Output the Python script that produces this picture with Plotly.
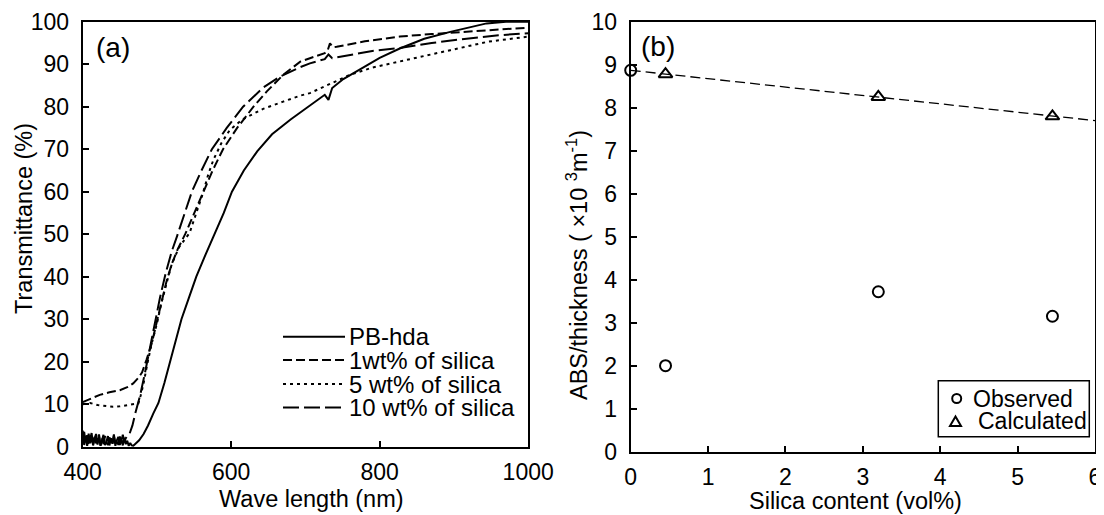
import plotly.graph_objects as go

# ---------------- Panel (a): transmittance spectra ----------------
pb_x = [400, 402, 404, 406, 408, 410, 412, 414, 416, 418, 420, 422, 424, 426, 428, 430, 432, 434,
        436, 438, 440, 442, 444, 446, 448, 450, 452, 454, 456, 458, 460, 462, 464, 466, 468,
        470, 476, 482, 488, 495, 502, 510, 518, 525, 533, 543, 553, 565, 578, 590, 601, 617, 635,
        655, 680, 700, 715, 726, 731, 736, 751, 780, 800, 827, 860, 895, 944, 970, 1000]
pb_y = [3.8, 0.4, 2.6, 0.2, 3.1, 0.8, 2.2, 0.3, 1.9, 3.0, 0.5, 2.4, 0.2, 1.6, 2.8, 0.4, 1.2, 2.5,
        0.3, 2.0, 0.7, 2.9, 0.2, 1.5, 2.3, 0.4, 1.8, 0.3, 2.1, 0.6, 1.4, 0.2, 0.9, 0.3, 0.2,
        0.5, 1.5, 3.0, 5.0, 7.8, 10.3, 15, 20, 25, 30, 35, 40, 45, 50, 55, 60, 65, 69.5,
        73.5, 77.0, 79.5, 81.3, 82.8, 81.6, 84.4, 86.5, 89.5, 91.5, 93.7, 96, 97.6, 99.6, 100, 100]

s1_x = [400, 410, 423, 436, 450, 460, 468, 475, 480, 486, 493, 500, 506, 513, 520, 528, 538, 550,
        562, 575, 589, 608, 630, 648, 670, 693, 706, 726, 730, 733, 737, 742, 780, 827, 870, 917,
        960, 1000]
s1_y = [10.5, 11.3, 12.2, 12.8, 13.3, 14.0, 14.9, 16.2, 17.5, 20.5, 24.3, 29.5, 34, 39, 43, 46.5,
        50, 55, 60, 65, 70, 75, 80, 83.6, 87.5, 90.6, 91.4, 92.6, 93.3, 94.9, 94.0, 94.1, 95.4,
        96.5, 97.1, 97.6, 98.1, 98.6]

s5_x = [400, 410, 420, 430, 441, 450, 460, 468, 475, 478, 482, 487, 493, 500, 506, 513, 520, 530,
        544, 553, 562, 569, 576, 587, 598, 615, 643, 670, 693, 706, 720, 740, 760, 790, 827, 860,
        895, 946, 1000]
s5_y = [10.0, 10.3, 9.8, 9.6, 9.4, 9.5, 9.8, 10.0, 10.2, 12.0, 14.9, 19.5, 24.3, 29.0, 33.8, 38.5,
        43.0, 47.0, 50.3, 55.0, 59.7, 64.0, 67.5, 71.5, 74.5, 77.0, 79.5, 81.2, 82.6, 83.2, 84.3,
        86.0, 87.5, 89.2, 90.6, 92.0, 93.3, 95.3, 96.5]

s10_x = [400, 402, 404, 406, 408, 410, 412, 414, 416, 418, 420, 422, 424, 426, 428, 430, 432, 434,
         436, 438, 440, 442, 444, 446, 448, 450, 452, 454, 456, 458, 460,
         463, 467, 471, 477, 484, 490, 497, 504, 512, 520, 527, 537, 547, 560, 574, 594, 616, 643,
         665, 693, 706, 726, 731, 736, 760, 790, 827, 870, 917, 960, 1000]
s10_y = [2.0, 3.5, 0.6, 2.7, 0.3, 1.9, 3.2, 0.5, 2.3, 0.8, 1.4, 2.9, 0.3, 2.0, 0.6, 2.5, 1.0, 0.4,
         2.2, 1.5, 0.3, 2.6, 0.9, 1.7, 0.4, 2.4, 1.1, 2.8, 1.3, 2.0, 2.6,
         3.0, 5.0, 8.0, 11.8, 17.5, 23.0, 29.5, 35.0, 41.0, 46.0, 49.5, 55.0, 60.0, 65.0, 70.0,
         75.0, 80.0, 84.5, 87.0, 89.3, 90.2, 91.2, 92.3, 91.4, 92.2, 93.1, 93.8, 95.0, 96.0, 96.8,
         97.3]

legend_a = ["PB-hda", "1wt% of silica", "5 wt% of silica", "10 wt% of silica"]

# ---------------- Panel (b): ABS/thickness ----------------
obs_x = [0, 0.45, 3.2, 5.45]
obs_y = [8.87, 2.0, 3.72, 3.15]
calc_x = [0.45, 3.2, 5.45]
calc_y = [8.78, 8.25, 7.80]
fit_x = [0, 6]
fit_y = [8.87, 7.70]
legend_b = ["Observed", "Calculated"]

# ---------------- layout helpers (screen pixel -> paper) ----------------
# the page body has an 8px margin, so the figure is drawn 8px in from the corner
OFF = 8
W, H = 1104 - OFF, 515 - OFF
FONT = "Arial, 'Liberation Sans', sans-serif"


def px(xp):
    return (xp - OFF) / W


def py(yp):
    return 1 - (yp - OFF) / H


fig = go.Figure()

dashes = ["solid", "9px,4px", "3px,4px", "16px,5px"]
series = [(pb_x, pb_y), (s1_x, s1_y), (s5_x, s5_y), (s10_x, s10_y)]
for (xs, ys), name, d in zip(series, legend_a, dashes):
    fig.add_trace(go.Scatter(x=xs, y=ys, mode="lines", name=name, showlegend=False,
                             line=dict(color="black", width=2, dash=d),
                             xaxis="x", yaxis="y"))

fig.add_trace(go.Scatter(x=fit_x, y=fit_y, mode="lines", showlegend=False,
                         line=dict(color="black", width=1.3, dash="10px,5px"),
                         xaxis="x2", yaxis="y2"))
fig.add_trace(go.Scatter(x=obs_x, y=obs_y, mode="markers", name=legend_b[0], showlegend=False,
                         marker=dict(symbol="circle-open", size=11, color="black",
                                     line=dict(width=2)),
                         cliponaxis=False, xaxis="x2", yaxis="y2"))
fig.add_trace(go.Scatter(x=calc_x, y=calc_y, mode="markers", name=legend_b[1], showlegend=False,
                         marker=dict(symbol="triangle-up-open", size=12, color="black",
                                     line=dict(width=2)),
                         cliponaxis=False, xaxis="x2", yaxis="y2"))

TICKSIZE = 23
axis_common = dict(showline=True, linecolor="black", linewidth=2, mirror=True,
                   ticks="inside", ticklen=6, tickwidth=2, tickcolor="black",
                   showgrid=False, zeroline=False, automargin=False,
                   tickfont=dict(family=FONT, size=TICKSIZE, color="black"))

fig.update_layout(
    template="none",
    width=W, height=H,
    margin=dict(l=0, r=0, t=0, b=0, autoexpand=False),
    paper_bgcolor="white", plot_bgcolor="white",
    font=dict(family=FONT, size=TICKSIZE, color="black"),
    xaxis=dict(domain=[px(82.7), px(528.2)], range=[400, 1000],
               tickvals=[400, 600, 800, 1000], anchor="y", ticklabelstandoff=4,
               **axis_common),
    yaxis=dict(domain=[py(446.7), py(21.7)], range=[0, 100], dtick=10, anchor="x",
               ticklabelstandoff=7, **axis_common),
    xaxis2=dict(domain=[px(630.7), px(1095)], range=[0, 6], dtick=1, anchor="y2",
                ticklabelstandoff=4, **axis_common),
    yaxis2=dict(domain=[py(451.7), py(21.7)], range=[0, 10], dtick=1, anchor="x2",
                ticklabelstandoff=7, **axis_common),
    showlegend=False,
)

shapes = []
annotations = []

# legend for panel (a): line samples + labels
row_y = [336.7, 360.0, 384.0, 407.5]
for name, d, ry in zip(legend_a, dashes, row_y):
    shapes.append(dict(type="line", xref="paper", yref="paper",
                       x0=px(283), x1=px(345), y0=py(ry), y1=py(ry),
                       line=dict(color="black", width=2, dash=d)))
    annotations.append(dict(text=name, xref="paper", yref="paper", x=px(347), y=py(ry),
                            xanchor="left", yanchor="middle", showarrow=False,
                            font=dict(family=FONT, size=24, color="black")))

# legend for panel (b): framed box with marker samples
shapes.append(dict(type="rect", xref="paper", yref="paper",
                   x0=px(938.3), x1=px(1089.3), y0=py(380.7), y1=py(436.7),
                   line=dict(color="black", width=1.5), fillcolor="white", layer="above"))
shapes.append(dict(type="circle", xref="paper", yref="paper",
                   xsizemode="pixel", ysizemode="pixel",
                   xanchor=px(956.7), yanchor=py(398.5),
                   x0=-4.5, x1=4.5, y0=-4.5, y1=4.5,
                   line=dict(color="black", width=2), layer="above"))
shapes.append(dict(type="path", xref="paper", yref="paper",
                   xsizemode="pixel", ysizemode="pixel",
                   xanchor=px(955.5), yanchor=py(421.5),
                   path="M -5.5 -4.5 L 5.5 -4.5 L 0 5 Z",
                   line=dict(color="black", width=2), layer="above"))
annotations.append(dict(text=legend_b[0], xref="paper", yref="paper", x=px(971), y=py(398.5),
                        xanchor="left", yanchor="middle", showarrow=False,
                        font=dict(family=FONT, size=23, color="black")))
annotations.append(dict(text=legend_b[1], xref="paper", yref="paper", x=px(976), y=py(420.5),
                        xanchor="left", yanchor="middle", showarrow=False,
                        font=dict(family=FONT, size=23, color="black")))

# panel labels and axis titles
annotations += [
    dict(text="(a)", xref="paper", yref="paper", x=px(94), y=py(48), xanchor="left",
         yanchor="middle", showarrow=False, font=dict(family=FONT, size=28)),
    dict(text="(b)", xref="paper", yref="paper", x=px(639), y=py(47), xanchor="left",
         yanchor="middle", showarrow=False, font=dict(family=FONT, size=28)),
    dict(text="Wave length (nm)", xref="paper", yref="paper", x=px(311), y=py(498.5),
         xanchor="center", yanchor="middle", showarrow=False, font=dict(family=FONT, size=23.5)),
    dict(text="Silica content (vol%)", xref="paper", yref="paper", x=px(855), y=py(500.5),
         xanchor="center", yanchor="middle", showarrow=False, font=dict(family=FONT, size=23.5)),
    dict(text="Transmittance (%)", xref="paper", yref="paper", x=px(24), y=py(219),
         xanchor="center", yanchor="middle", textangle=-90, showarrow=False,
         font=dict(family=FONT, size=23.5)),
    dict(text="ABS/thickness ( \u00d710 <sup>3</sup>m<sup>-1</sup>)", xref="paper", yref="paper",
         x=px(577), y=py(265), xanchor="center", yanchor="middle", textangle=-90,
         showarrow=False, font=dict(family=FONT, size=23.5)),
]

fig.update_layout(shapes=shapes, annotations=annotations)
fig.write_html("out.html")
